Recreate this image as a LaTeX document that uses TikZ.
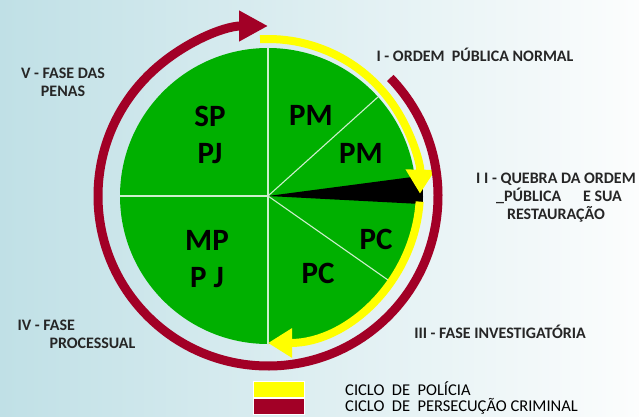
\documentclass[tikz,border=0pt]{standalone}
\usepackage{fontspec}
\setmainfont{Carlito}
\usetikzlibrary{arrows.meta}

\definecolor{verde}{RGB}{0,176,0}
\definecolor{vinho}{RGB}{162,0,38}
\definecolor{amarelo}{RGB}{255,255,0}
\definecolor{fundoE}{RGB}{192,224,230}
\definecolor{fundoD}{RGB}{252,253,253}

\begin{document}
\begin{tikzpicture}[x=1pt,y=1pt,
fase/.style={align=center, font=\fontsize{16}{18}\selectfont\bfseries, text=black!85},
setor/.style={align=center, font=\fontsize{31}{37}\selectfont\bfseries},
legenda/.style={align=left, anchor=west, inner sep=1pt, font=\fontsize{16.5}{16}\selectfont},
policia/.style={draw=amarelo, line width=8pt, -{Triangle[width=28pt,length=24pt]}},
persec/.style={draw=vinho, line width=9pt, -{Triangle[width=29pt,length=29pt]}},
divisa/.style={draw=white!80!verde, line width=1.1pt}]

\useasboundingbox (0,0) rectangle (639,416);
\shade[left color=fundoE, right color=fundoD] (0,0) rectangle (639,416);

% circulo e setores
\coordinate (O) at (268,220);
\coordinate (Y) at (268,225);
\fill[verde] (O) circle[radius=148];
\fill[black] (O) -- ([shift={(7.5:155)}]O) arc[start angle=7.5, end angle=-3, radius=155] -- cycle;
\draw[divisa] (O) -- ([shift={(90:148)}]O);
\draw[divisa] (O) -- ([shift={(-90:148)}]O);
\draw[divisa] (O) -- ([shift={(180:148)}]O);
\draw[divisa] (O) -- ([shift={(42:148)}]O);
\draw[divisa] (O) -- ([shift={(-35:148)}]O);

% ciclos
\draw[policia] ([shift={(93:152)}]Y) arc[start angle=93, end angle=-1, radius=152];
\draw[policia] ([shift={(-4:152)}]Y) arc[start angle=-4, end angle=-90, radius=152];
\draw[persec] ([shift={(44:170)}]O) arc[start angle=44, end angle=-270, radius=170];

% setores
\draw (210,281) node[setor] (SPPJ) {SP\\PJ};
\draw (311,301) node[setor] (PM1) {PM};
\draw (361,263) node[setor] (PM2) {PM};
\draw (376,177) node[setor] (PC1) {PC};
\draw (318,143) node[setor] (PC2) {PC};
\draw (207,157) node[setor] (MPPJ) {MP\\P J};

% fases
\draw (63,334) node[fase] (F5) {V - FASE DAS\\PENAS};
\draw (475,361) node[fase] (F1) {I - ORDEM~ PÚBLICA NORMAL};
\draw (556,218) node[fase] (F2) {I I - QUEBRA DA ORDEM\\\hspace*{6pt}\_PÚBLICA\hspace{22pt}E SUA\\RESTAURAÇÃO};
\draw (500,84) node[fase] (F3) {III - FASE INVESTIGATÓRIA};
\draw (14,82) node[fase, align=left, anchor=west] (F4) {IV - FASE\\\hspace*{32pt}PROCESSUAL};

% legenda
\draw[white, line width=0.6pt, fill=amarelo] (253,19) rectangle (304,35);
\draw[white, line width=0.6pt, fill=vinho] (253,2) rectangle (304,18);
\draw (344,18) node[legenda] (L) {CICLO~ DE~ POLÍCIA\\CICLO~ DE~ PERSECUÇÃO CRIMINAL};

\end{tikzpicture}
\end{document}
